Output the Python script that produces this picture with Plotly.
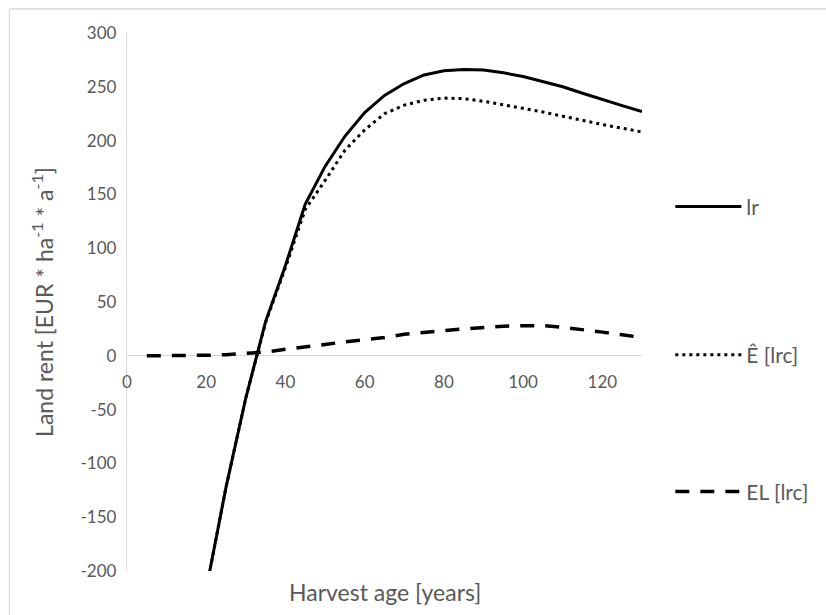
import plotly.graph_objects as go

ages = [5, 10, 15, 20, 25, 30, 35, 40, 45, 50, 55, 60, 65, 70, 75, 80, 85, 90, 95, 100, 105, 110, 115, 120, 125, 130]

lr_ages = [20, 25, 30, 35, 40, 45, 50, 55, 60, 65, 70, 75, 80, 85, 90, 95, 100, 105, 110, 115, 120, 125, 130]
lr_vals = [-217, -122, -39, 32, 84, 141, 176, 204, 226, 242, 253, 261, 265, 266, 265.5, 263, 259.5, 255, 250, 244, 238, 232.5, 227]

e_ages = [20, 25, 30, 35, 40, 45, 50, 55, 60, 65, 70, 75, 80, 85, 90, 95, 100, 105, 110, 115, 120, 125, 130]
e_vals = [-217, -122, -39, 31, 82, 136, 163, 191, 210, 225, 233, 237.5, 239.5, 239, 236.5, 233.5, 230, 226.5, 222.5, 218.5, 215, 211.5, 208]

el_vals = [0, 0, 0, 0.5, 1, 2, 3.5, 6, 8, 10.5, 13, 15, 17, 20, 22, 23.5, 25, 26.5, 27.5, 28, 28, 26.5, 24.5, 22, 19.5, 17]

x_ticks = [0, 20, 40, 60, 80, 100, 120]
y_ticks = [-200, -150, -100, -50, 0, 50, 100, 150, 200, 250, 300]
y_tick_text = ["-200", "-150", "-100", "-50", "0", "50", "100", "150", "200", "250", "300"]

FONT = "Lato"
GREY = "#595959"
LIGHT = "#d9d9d9"

fig = go.Figure()
fig.add_trace(go.Scatter(x=lr_ages, y=lr_vals, mode="lines", name="lr",
                         line=dict(color="black", width=3), legend="legend"))
fig.add_trace(go.Scatter(x=e_ages, y=e_vals, mode="lines", name="Ê [lrc]",
                         line=dict(color="black", width=3, dash="3px,4px"), legend="legend2"))
fig.add_trace(go.Scatter(x=ages, y=el_vals, mode="lines", name="EL [lrc]",
                         line=dict(color="black", width=3.5, dash="14px,11px"), legend="legend3"))

leg_common = dict(x=1.055, xanchor="left", yanchor="middle", bgcolor="rgba(0,0,0,0)",
                  font=dict(family=FONT, size=21, color=GREY), itemwidth=66)

fig.update_layout(
    width=826, height=615,
    margin=dict(l=127, r=169, t=33, b=44),
    paper_bgcolor="white", plot_bgcolor="white",
    font=dict(family=FONT, size=17, color=GREY),
    showlegend=True,
    legend=dict(y=0.677, **leg_common),
    legend2=dict(y=0.4015, **leg_common),
    legend3=dict(y=0.147, **leg_common),
    xaxis=dict(range=[0, 130], tickvals=x_ticks, showgrid=False, zeroline=False,
               showline=False, anchor="free", position=0.4,
               ticks="outside", ticklen=11, tickcolor="rgba(0,0,0,0)",
               tickfont=dict(family=FONT, size=17, color=GREY)),
    yaxis=dict(range=[-200, 300], tickvals=y_ticks, ticktext=y_tick_text, showgrid=False,
               zeroline=True, zerolinecolor=LIGHT, zerolinewidth=1.3,
               showline=True, linecolor=LIGHT, linewidth=1.3,
               ticks="outside", ticklen=6, tickcolor="rgba(0,0,0,0)",
               tickfont=dict(family=FONT, size=17, color=GREY),
               title=dict(text="Land rent [EUR * ha<sup>-1</sup> * a<sup>-1</sup>]",
                          font=dict(family=FONT, size=23, color=GREY), standoff=20)),
    annotations=[dict(text="Harvest age [years]", xref="paper", yref="paper",
                      x=0.5, y=-0.039, xanchor="center", yanchor="middle",
                      showarrow=False, font=dict(family=FONT, size=23, color=GREY))],
    shapes=[
        dict(type="line", xref="paper", yref="paper", x0=-0.2283, x1=1.4, y0=1.0446, y1=1.0446,
             line=dict(color=LIGHT, width=1.3)),
        dict(type="line", xref="paper", yref="paper", x0=-0.2283, x1=-0.2283, y0=-0.2, y1=1.0446,
             line=dict(color=LIGHT, width=1.3)),
    ],
)

fig.write_html("out.html")
